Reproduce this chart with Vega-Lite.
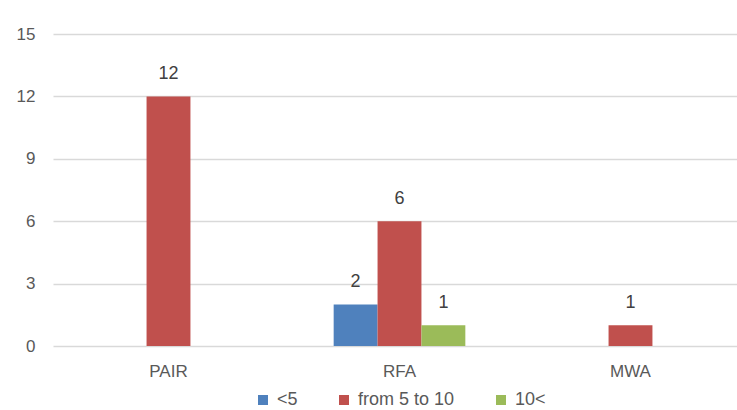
{
  "$schema": "https://vega.github.io/schema/vega-lite/v6.json",
  "autosize": "none",
  "width": 693,
  "height": 312,
  "padding": {"left": 53, "top": 34, "right": 0, "bottom": 64},
  "background": "white",
  "data": {
    "values": [
      {"method": "PAIR", "size": "from 5 to 10", "count": 12},
      {"method": "RFA", "size": "<5", "count": 2},
      {"method": "RFA", "size": "from 5 to 10", "count": 6},
      {"method": "RFA", "size": "10<", "count": 1},
      {"method": "MWA", "size": "from 5 to 10", "count": 1}
    ]
  },
  "encoding": {
    "x": {
      "field": "method",
      "type": "nominal",
      "sort": ["PAIR", "RFA", "MWA"],
      "scale": {"paddingInner": 0.43, "paddingOuter": 0.215},
      "axis": {
        "title": null,
        "labelAngle": 0,
        "domain": false,
        "ticks": false,
        "labelPadding": 17,
        "labelFontSize": 17,
        "labelColor": "#595959",
        "labelFont": "Liberation Sans"
      }
    },
    "xOffset": {
      "field": "size",
      "type": "nominal",
      "scale": {"domain": ["<5", "from 5 to 10", "10<"], "paddingInner": 0, "paddingOuter": 0}
    },
    "y": {
      "field": "count",
      "type": "quantitative",
      "scale": {"domain": [0, 15], "nice": false},
      "axis": {
        "title": null,
        "values": [0, 3, 6, 9, 12, 15],
        "domain": false,
        "ticks": false,
        "labelPadding": 18,
        "labelFontSize": 17,
        "labelColor": "#595959",
        "labelFont": "Liberation Sans",
        "gridColor": "#d9d9d9",
        "gridWidth": 1.5
      }
    }
  },
  "layer": [
    {
      "mark": {"type": "bar"},
      "encoding": {
        "color": {
          "field": "size",
          "type": "nominal",
          "scale": {
            "domain": ["<5", "from 5 to 10", "10<"],
            "range": ["#4F81BD", "#C0504D", "#9BBB59"]
          },
          "legend": {
            "title": null,
            "orient": "bottom",
            "direction": "horizontal",
            "symbolType": "square",
            "symbolSize": 100,
            "symbolStrokeWidth": 0,
            "labelFontSize": 18,
            "labelColor": "#595959",
            "labelFont": "Liberation Sans",
            "labelOffset": 5,
            "columnPadding": 37,
            "offset": 12
          }
        }
      }
    },
    {
      "mark": {
        "type": "text",
        "baseline": "bottom",
        "dy": -13,
        "fontSize": 18,
        "font": "Liberation Sans",
        "color": "#404040"
      },
      "encoding": {
        "text": {"field": "count", "type": "quantitative"}
      }
    }
  ],
  "config": {
    "view": {"stroke": null},
    "legend": {"layout": {"bottom": {"anchor": "middle"}}}
  }
}
